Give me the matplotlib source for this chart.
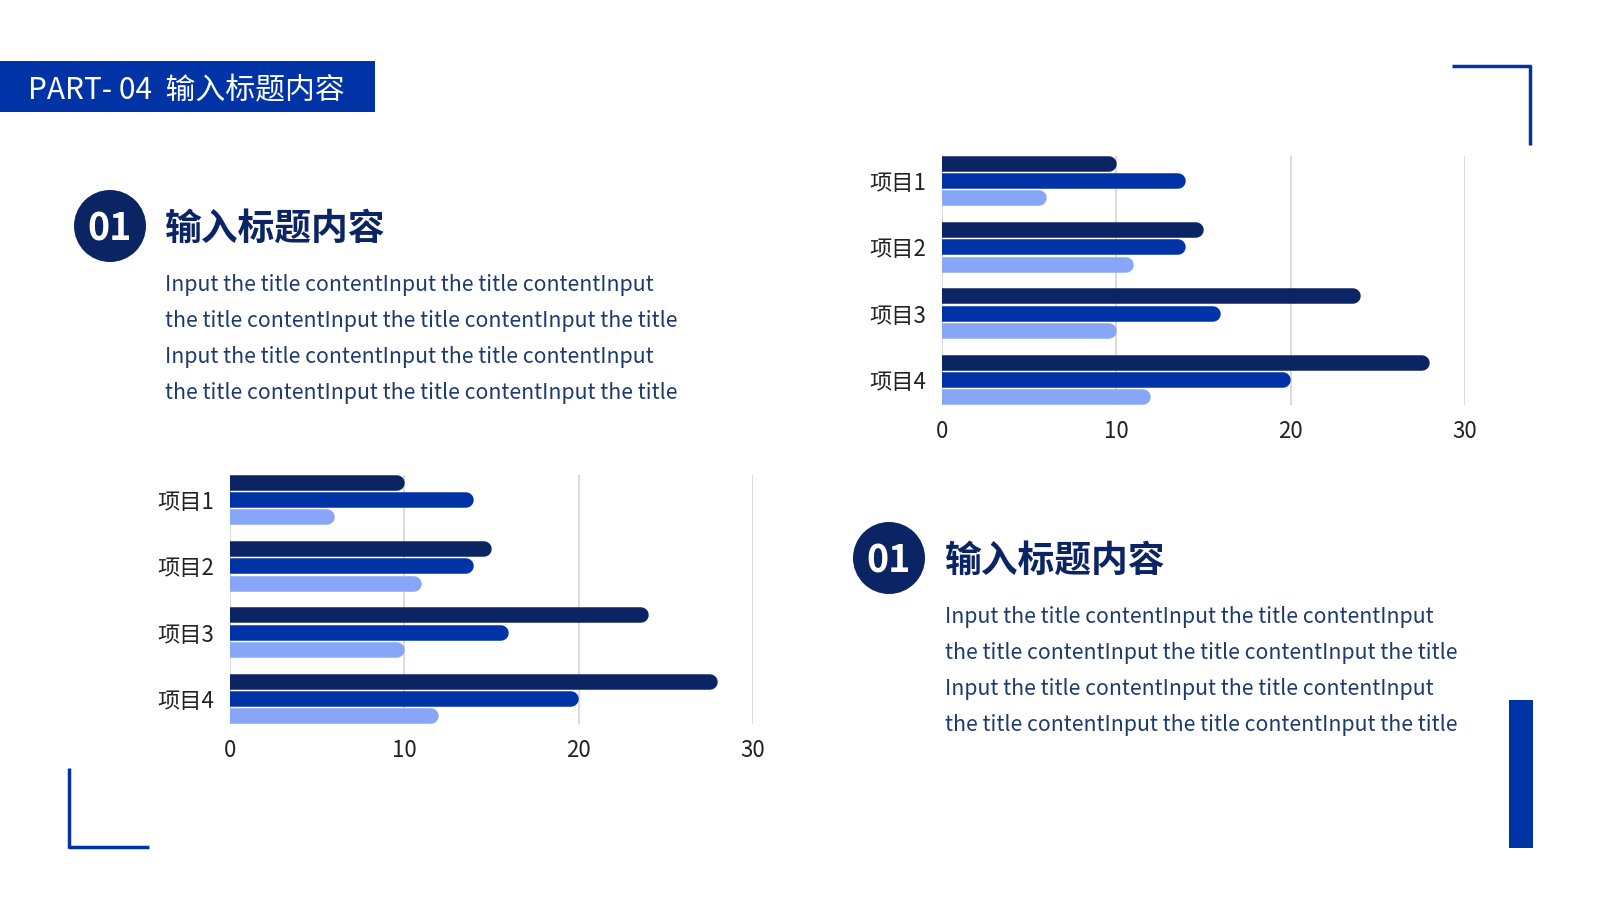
import matplotlib
matplotlib.use('Agg')
import matplotlib.pyplot as plt
from matplotlib.patches import Rectangle, Circle

plt.rcParams['font.family'] = ['Noto Sans CJK SC', 'DejaVu Sans']

categories = ['项目1', '项目2', '项目3', '项目4']
series_a = [10, 15, 24, 28]
series_b = [14, 14, 16, 20]
series_c = [6, 11, 10, 12]
xticks = [0, 10, 20, 30]

heading = '输入标题内容'
part_label = 'PART- 04  输入标题内容'
body_lines = [
    'Input the title contentInput the title contentInput',
    'the title contentInput the title contentInput the title',
    'Input the title contentInput the title contentInput',
    'the title contentInput the title contentInput the title',
]

NAVY = '#0b2464'
BLUE = '#0033a6'
LIGHT = '#88a6f7'
TEXT = '#1d3a6e'

W, H = 1600, 900
fig = plt.figure(figsize=(16, 9), dpi=100)
fig.patch.set_facecolor('white')


def fx(x):
    return x / W


def fy(y):
    return 1 - y / H


# decoration layer in pixel coordinates
deco = fig.add_axes([0, 0, 1, 1])
deco.set_xlim(0, W)
deco.set_ylim(H, 0)
deco.axis('off')

deco.add_patch(Rectangle((0, 61), 375, 51, color=BLUE, lw=0))
deco.text(28, 91, part_label, color='white', fontsize=21.5, va='center', ha='left')

deco.plot([1452, 1531], [66, 66], color=BLUE, lw=2.5, solid_capstyle='butt')
deco.plot([1530, 1530], [65, 145], color=BLUE, lw=2.5, solid_capstyle='butt')
deco.plot([69, 69], [768, 848], color=BLUE, lw=2.5, solid_capstyle='butt')
deco.plot([68, 149], [847, 847], color=BLUE, lw=2.5, solid_capstyle='butt')
deco.add_patch(Rectangle((1509, 700), 24, 148, color=BLUE, lw=0))


def text_block(cx, cy, tx, ty):
    deco.add_patch(Circle((cx, cy), 36, color=NAVY, lw=0))
    deco.text(cx, cy + 3, '01', color='white', fontsize=27, fontweight='bold',
              ha='center', va='center')
    deco.text(tx, cy + 3, heading, color=NAVY, fontsize=26.5, fontweight='black',
              ha='left', va='center')
    for i, line in enumerate(body_lines):
        deco.text(tx, ty + i * 36, line, color=TEXT, fontsize=15.3,
                  ha='left', va='center')


text_block(110, 226, 165, 285)
text_block(889, 558, 945, 617)


def bar_chart(left, top, right, bottom):
    ax = fig.add_axes([fx(left), fy(bottom), fx(right - left), (bottom - top) / H])
    ax.set_xlim(0, 30)
    half = 0.378
    ax.set_ylim(len(categories) - 1 + half, -half)
    ax.set_facecolor('none')
    for s in ax.spines.values():
        s.set_visible(False)
    ax.set_xticks(xticks)
    ax.set_yticks(range(len(categories)))
    ax.set_yticklabels(categories)
    ax.tick_params(length=0, labelsize=16, colors='#222222')
    ax.tick_params(axis='x', pad=11)
    ax.tick_params(axis='y', pad=11)
    for t in xticks:
        ax.axvline(t, color='#d4d4d4', lw=1.2, zorder=0)

    # bar thickness in points and cap radius in data units
    ax_w_px = right - left
    bar_px = 15.5
    lw_pt = bar_px * 72 / 100
    r_data = (bar_px / 2) * 30 / ax_w_px
    offset = 0.261
    for vals, color, off in [(series_a, NAVY, -offset), (series_b, BLUE, 0),
                             (series_c, LIGHT, offset)]:
        for i, v in enumerate(vals):
            ax.plot([-1, v - r_data], [i + off, i + off], color=color, lw=lw_pt,
                    solid_capstyle='round', zorder=2)
    return ax


bar_chart(942, 156, 1465, 405)
bar_chart(230, 475, 753, 724)

fig.savefig('out.png', dpi=100)
